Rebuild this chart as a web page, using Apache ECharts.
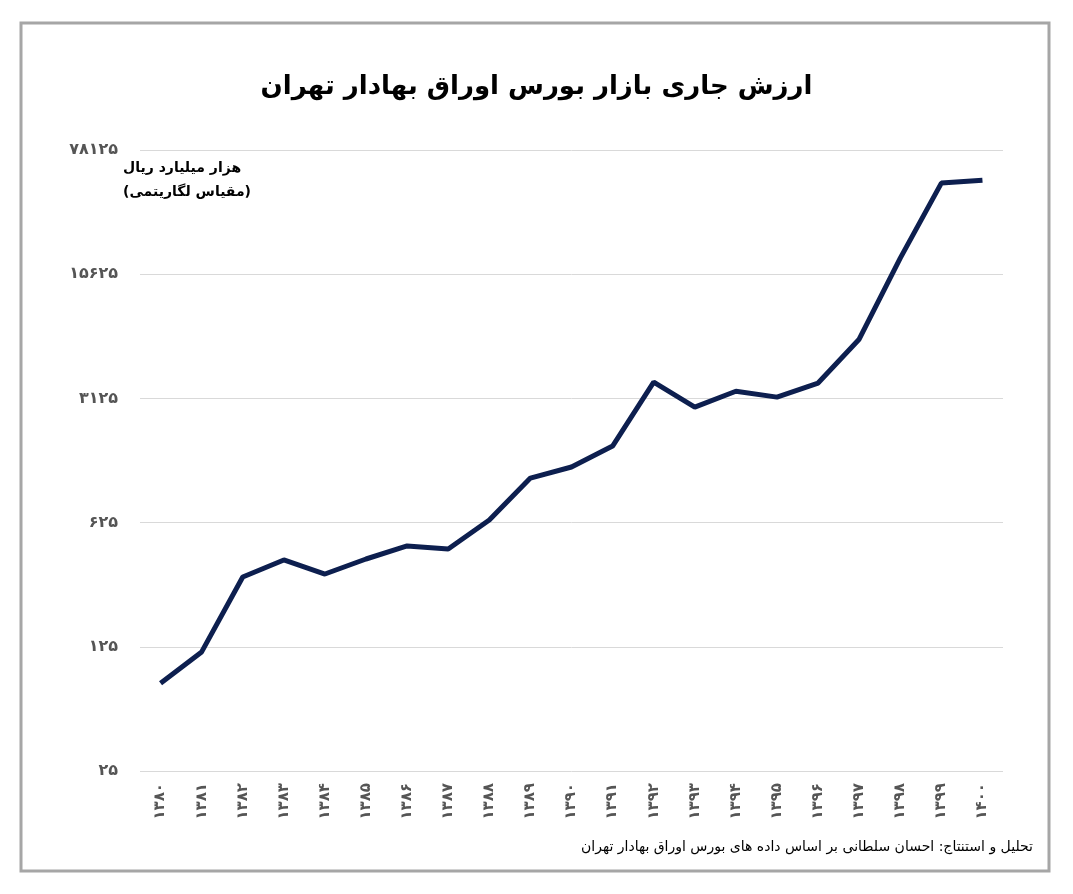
<!DOCTYPE html>
<html><head><meta charset="utf-8">
<script src="https://cdn.jsdelivr.net/npm/echarts@6/dist/echarts.min.js"></script>
<style>html,body{margin:0;padding:0;background:#fff}#c{width:1073px;height:894px}</style>
</head><body><div id="c"></div>
<script>
const categories = ['1380','1381','1382','1383','1384','1385','1386','1387','1388','1389','1390','1391','1392','1393','1394','1395','1396','1397','1398','1399','1400'];
const values = [78,117,309,385,321,390,462,444,646,1113,1284,1685,3862,2793,3430,3178,3812,6730,19240,50870,52870];
const yTicks = [25,125,625,3125,15625,78125];
const fa = s => String(s).replace(/\d/g, d => '۰۱۲۳۴۵۶۷۸۹'[d]);
const chart = echarts.init(document.getElementById('c'));
chart.setOption({
  animation:false,
  graphic:[
    {type:'rect',shape:{x:21,y:23,width:1028,height:848},style:{fill:'none',stroke:'#a6a6a6',lineWidth:3}},
    {type:'text',left:'center',top:74,style:{text:'ارزش جاری بازار بورس اوراق بهادار تهران',font:'bold 26px "DejaVu Sans", "Noto Sans"',fill:'#000'}},
    {type:'text',right:822,top:156,style:{text:'هزار میلیارد ریال\n(مقیاس لگاریتمی)',font:'bold 14px "DejaVu Sans"',fill:'#000',align:'right',lineHeight:24}},
    {type:'text',right:40,top:840,style:{text:'تحلیل و استنتاج: احسان سلطانی بر اساس داده های بورس اوراق بهادار تهران',font:'14px "DejaVu Sans"',fill:'#000',align:'right'}}
  ],
  grid:{left:140,right:70,top:150,bottom:123,containLabel:false},
  xAxis:{type:'category',data:categories,boundaryGap:true,
    axisLine:{show:false},axisTick:{show:false},
    axisLabel:{rotate:90,color:'#555',fontWeight:'bold',fontSize:15,fontFamily:'DejaVu Sans',margin:12,formatter:v=>fa(v)}},
  yAxis:{type:'log',logBase:5,min:25,max:78125,
    axisLine:{show:false},axisTick:{show:false},
    splitLine:{lineStyle:{color:'#d9d9d9'}},
    axisLabel:{color:'#555',fontWeight:'bold',fontSize:16,fontFamily:'DejaVu Sans',margin:22,formatter:v=>fa(Math.round(v))}},
  series:[{type:'line',data:values,symbol:'none',lineStyle:{color:'#0d1f4f',width:5},itemStyle:{color:'#0d1f4f'}}]
});
</script></body></html>
